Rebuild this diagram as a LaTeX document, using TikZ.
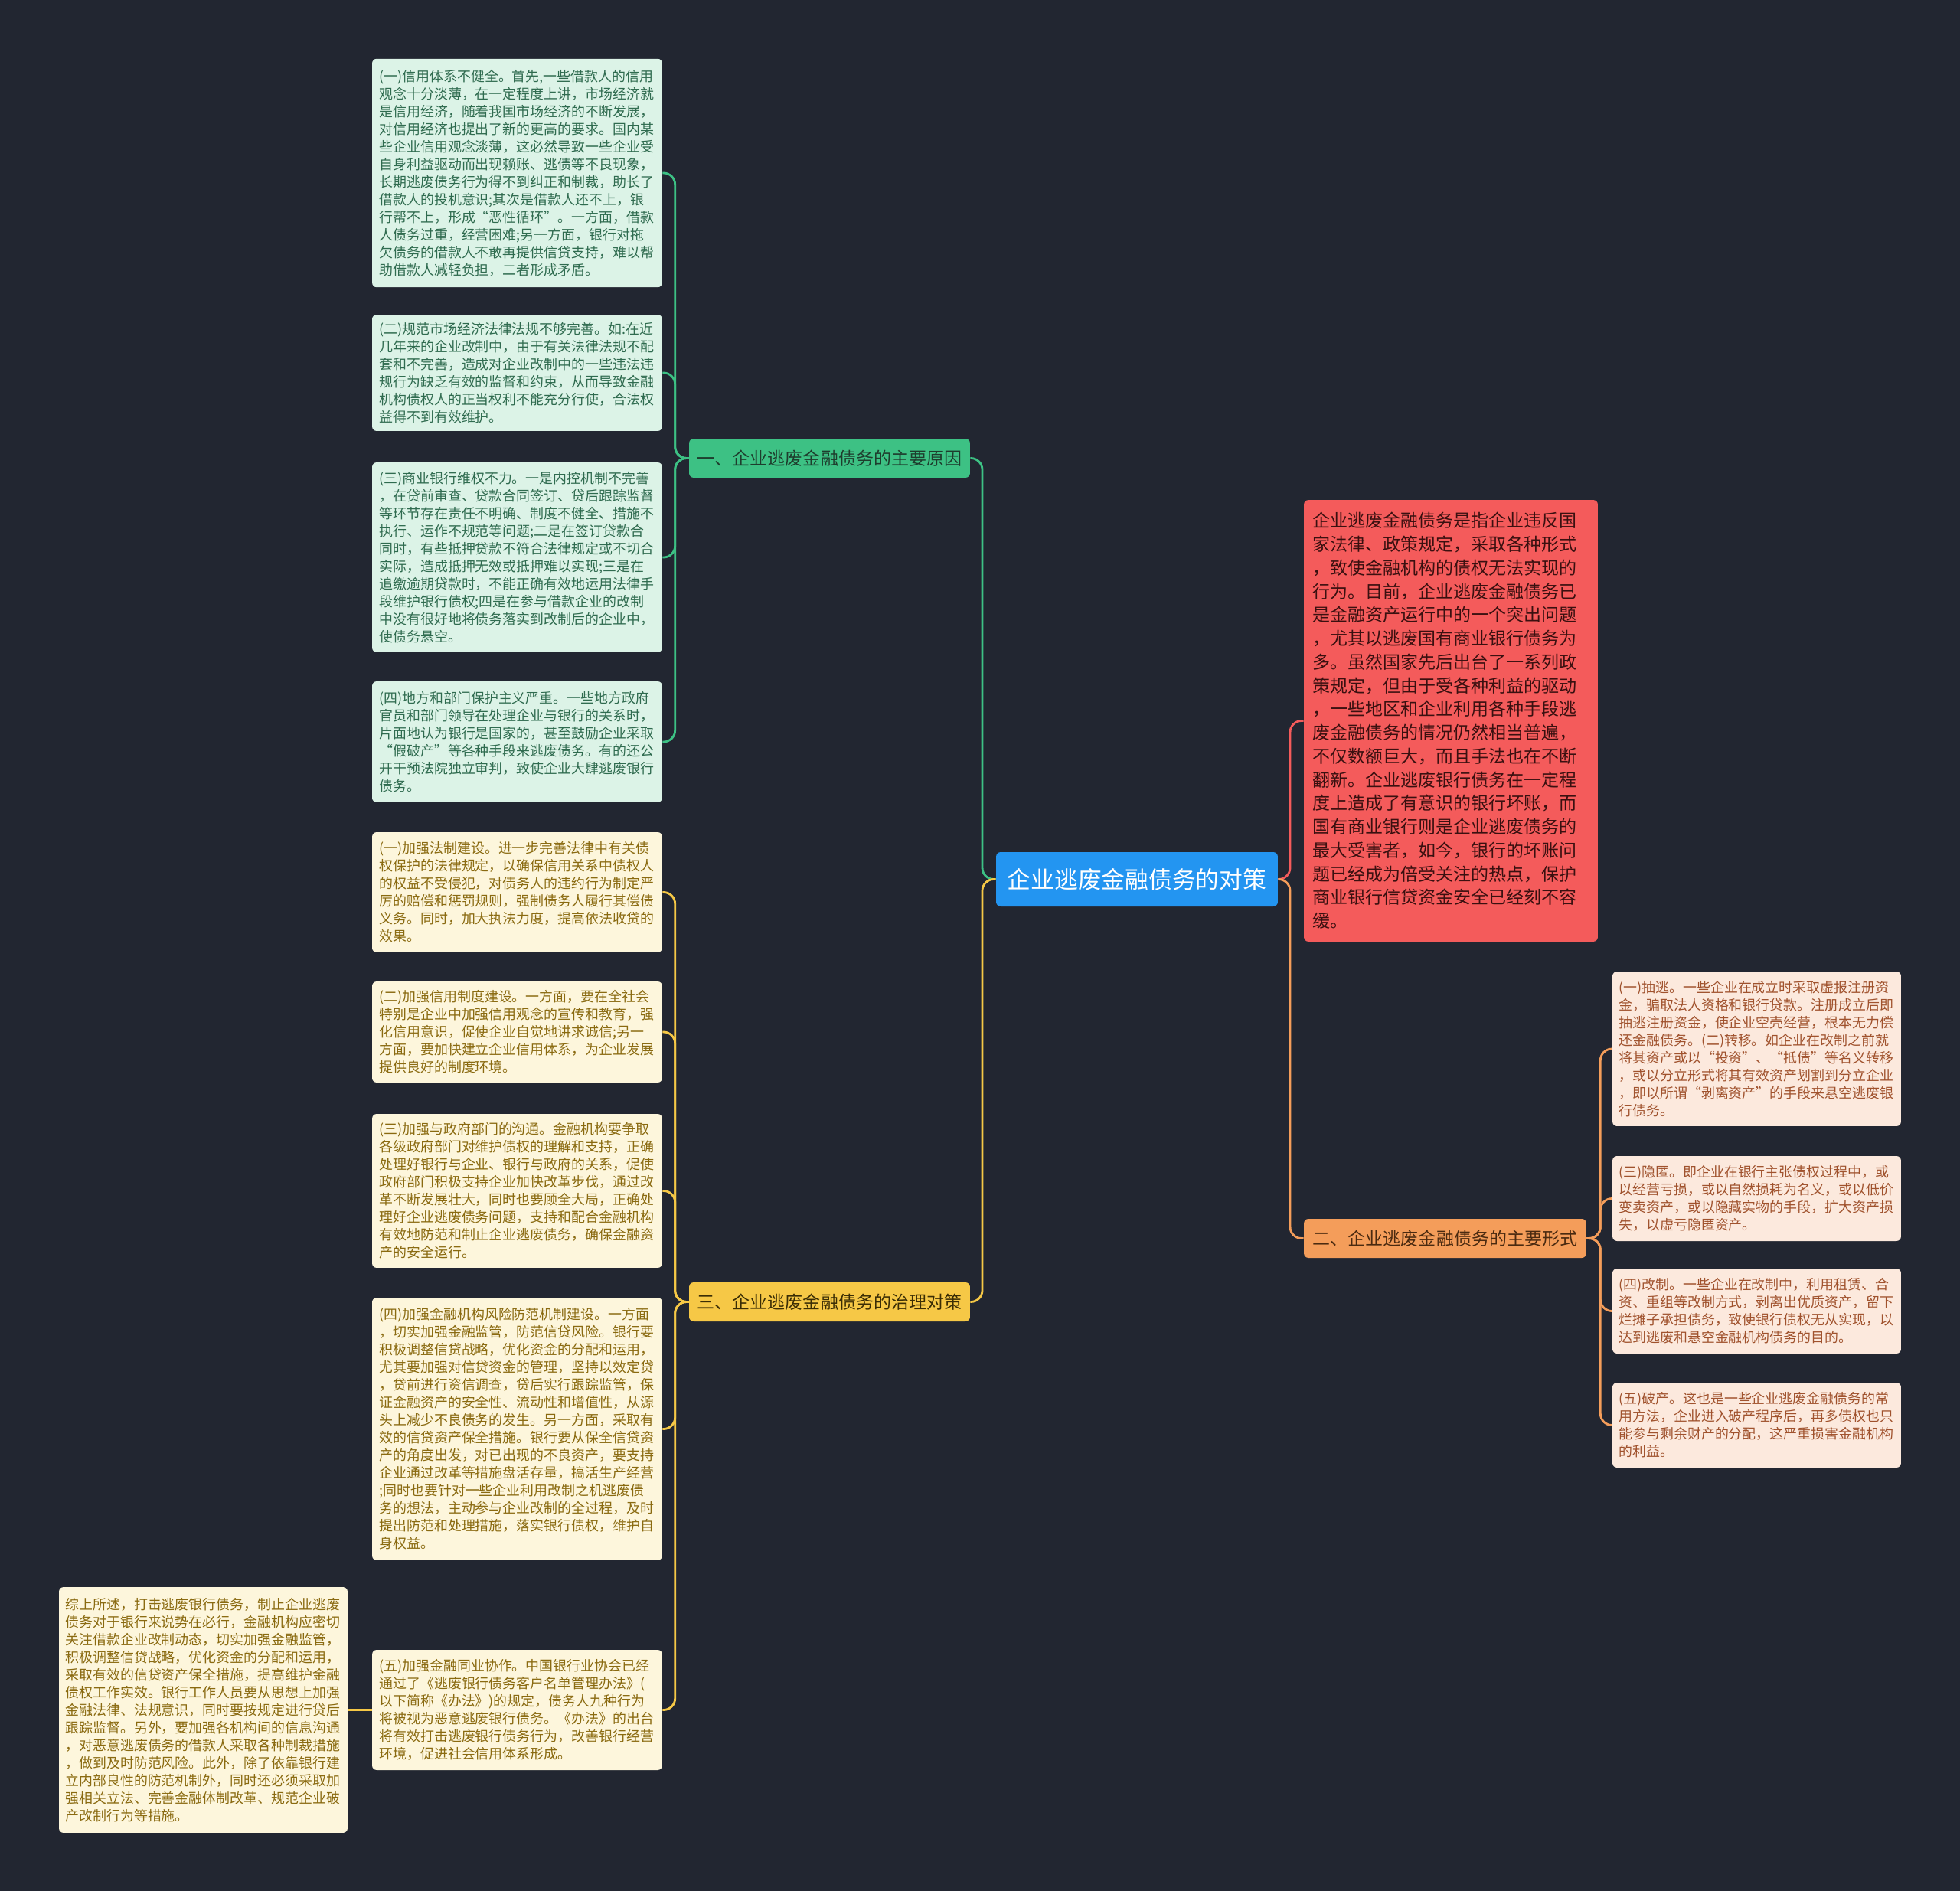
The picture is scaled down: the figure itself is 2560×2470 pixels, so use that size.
\documentclass[tikz,border=0pt]{standalone}
\usepackage{fontspec}
\setmainfont{Noto Sans CJK SC}
\usetikzlibrary{positioning}

\definecolor{bgnavy}{HTML}{222631}
\definecolor{rootblue}{HTML}{2395F1}
\definecolor{causeline}{HTML}{3DC184}
\definecolor{causefill}{HTML}{DCF3E7}
\definecolor{causeink}{HTML}{2F6B4F}
\definecolor{causedark}{HTML}{1E3D2D}
\definecolor{remedyline}{HTML}{F6C846}
\definecolor{remedyfill}{HTML}{FDF6DC}
\definecolor{remedyink}{HTML}{8A6A10}
\definecolor{remedydark}{HTML}{3A2D05}
\definecolor{noteline}{HTML}{F45B5B}
\definecolor{noteink}{HTML}{3A1010}
\definecolor{formline}{HTML}{F49D5A}
\definecolor{formfill}{HTML}{FCE9DD}
\definecolor{formink}{HTML}{A0522D}
\definecolor{formdark}{HTML}{4A2A10}

\newcommand\leaffont{\fontsize{10.2}{13.1}\selectfont}
\newcommand\notefont{\fontsize{13.1}{17.5}\selectfont}
\newcommand\branchfont{\fontsize{13.1}{15}\selectfont}
\newcommand\rootfont{\fontsize{17.5}{20}\selectfont}

\begin{document}
\begin{tikzpicture}[x=0.02cm, y=-0.02cm,
  leaf/.style={rounded corners=0.12cm, inner xsep=0.19cm, inner ysep=0.1cm, text width=7.2cm, align=left, font=\leaffont},
  cause/.style={leaf, fill=causefill, text=causeink},
  remedy/.style={leaf, fill=remedyfill, text=remedyink},
  form/.style={leaf, inner xsep=0.17cm, fill=formfill, text=formink},
  branch/.style={rounded corners=0.12cm, minimum width=7.34cm, minimum height=1.02cm, inner sep=0pt, font=\branchfont},
  link/.style={line width=1.6pt, rounded corners=0.3cm}]
\fill[bgnavy] (0,0) rectangle (2560,2470);

\node[fill=rootblue, text=white, rounded corners=0.12cm, minimum width=7.36cm, minimum height=1.42cm, inner sep=0pt, font=\rootfont] (root) at (1485,1148.5) {企业逃废金融债务的对策};
\node[branch, fill=causeline, text=causedark] (why) at (1083.5,598.5) {一、企业逃废金融债务的主要原因};
\node[branch, fill=remedyline, text=remedydark] (how) at (1083.5,1700.5) {三、企业逃废金融债务的治理对策};
\node[branch, minimum width=7.38cm, fill=formline, text=formdark] (forms) at (1887.5,1617.5) {二、企业逃废金融债务的主要形式};
\node[rounded corners=0.12cm, fill=noteline, text=noteink, inner xsep=0.22cm, text width=7.24cm, minimum height=11.54cm, align=left, font=\notefont] (note) at (1895,941.5) {企业逃废金融债务是指企业违反国\\家法律、政策规定，采取各种形式\\，致使金融机构的债权无法实现的\\行为。目前，企业逃废金融债务已\\是金融资产运行中的一个突出问题\\，尤其以逃废国有商业银行债务为\\多。虽然国家先后出台了一系列政\\策规定，但由于受各种利益的驱动\\，一些地区和企业利用各种手段逃\\废金融债务的情况仍然相当普遍，\\不仅数额巨大，而且手法也在不断\\翻新。企业逃废银行债务在一定程\\度上造成了有意识的银行坏账，而\\国有商业银行则是企业逃废债务的\\最大受害者，如今，银行的坏账问\\题已经成为倍受关注的热点，保护\\商业银行信贷资金安全已经刻不容\\缓。};

\node[cause, minimum height=5.97cm] (c1) at (675.5,226) {(一)信用体系不健全。首先,一些借款人的信用\\观念十分淡薄，在一定程度上讲，市场经济就\\是信用经济，随着我国市场经济的不断发展，\\对信用经济也提出了新的更高的要求。国内某\\些企业信用观念淡薄，这必然导致一些企业受\\自身利益驱动而出现赖账、逃债等不良现象，\\长期逃废债务行为得不到纠正和制裁，助长了\\借款人的投机意识;其次是借款人还不上，银\\行帮不上，形成“恶性循环”。一方面，借款\\人债务过重，经营困难;另一方面，银行对拖\\欠债务的借款人不敢再提供信贷支持，难以帮\\助借款人减轻负担，二者形成矛盾。};
\node[cause, minimum height=3.04cm] (c2) at (675.5,487) {(二)规范市场经济法律法规不够完善。如:在近\\几年来的企业改制中，由于有关法律法规不配\\套和不完善，造成对企业改制中的一些违法违\\规行为缺乏有效的监督和约束，从而导致金融\\机构债权人的正当权利不能充分行使，合法权\\益得不到有效维护。};
\node[cause, minimum height=4.96cm] (c3) at (675.5,728) {(三)商业银行维权不力。一是内控机制不完善\\，在贷前审查、贷款合同签订、贷后跟踪监督\\等环节存在责任不明确、制度不健全、措施不\\执行、运作不规范等问题;二是在签订贷款合\\同时，有些抵押贷款不符合法律规定或不切合\\实际，造成抵押无效或抵押难以实现;三是在\\追缴逾期贷款时，不能正确有效地运用法律手\\段维护银行债权;四是在参与借款企业的改制\\中没有很好地将债务落实到改制后的企业中，\\使债务悬空。};
\node[cause, minimum height=3.16cm] (c4) at (675.5,969) {(四)地方和部门保护主义严重。一些地方政府\\官员和部门领导在处理企业与银行的关系时，\\片面地认为银行是国家的，甚至鼓励企业采取\\“假破产”等各种手段来逃废债务。有的还公\\开干预法院独立审判，致使企业大肆逃废银行\\债务。};

\node[remedy, minimum height=3.14cm] (m1) at (675.5,1165.5) {(一)加强法制建设。进一步完善法律中有关债\\权保护的法律规定，以确保信用关系中债权人\\的权益不受侵犯，对债务人的违约行为制定严\\厉的赔偿和惩罚规则，强制债务人履行其偿债\\义务。同时，加大执法力度，提高依法收贷的\\效果。};
\node[remedy, minimum height=2.64cm] (m2) at (675.5,1348) {(二)加强信用制度建设。一方面，要在全社会\\特别是企业中加强信用观念的宣传和教育，强\\化信用意识，促使企业自觉地讲求诚信;另一\\方面，要加快建立企业信用体系，为企业发展\\提供良好的制度环境。};
\node[remedy, minimum height=4.02cm] (m3) at (675.5,1555.5) {(三)加强与政府部门的沟通。金融机构要争取\\各级政府部门对维护债权的理解和支持，正确\\处理好银行与企业、银行与政府的关系，促使\\政府部门积极支持企业加快改革步伐，通过改\\革不断发展壮大，同时也要顾全大局，正确处\\理好企业逃废债务问题，支持和配合金融机构\\有效地防范和制止企业逃废债务，确保金融资\\产的安全运行。};
\node[remedy, minimum height=6.86cm] (m4) at (675.5,1866.5) {(四)加强金融机构风险防范机制建设。一方面\\，切实加强金融监管，防范信贷风险。银行要\\积极调整信贷战略，优化资金的分配和运用，\\尤其要加强对信贷资金的管理，坚持以效定贷\\，贷前进行资信调查，贷后实行跟踪监管，保\\证金融资产的安全性、流动性和增值性，从源\\头上减少不良债务的发生。另一方面，采取有\\效的信贷资产保全措施。银行要从保全信贷资\\产的角度出发，对已出现的不良资产，要支持\\企业通过改革等措施盘活存量，搞活生产经营\\;同时也要针对一些企业利用改制之机逃废债\\务的想法，主动参与企业改制的全过程，及时\\提出防范和处理措施，落实银行债权，维护自\\身权益。};
\node[remedy, minimum height=3.14cm] (m5) at (675.5,2233.5) {(五)加强金融同业协作。中国银行业协会已经\\通过了《逃废银行债务客户名单管理办法》(\\以下简称《办法》)的规定，债务人九种行为\\将被视为恶意逃废银行债务。《办法》的出台\\将有效打击逃废银行债务行为，改善银行经营\\环境，促进社会信用体系形成。};
\node[remedy, inner xsep=0.17cm, minimum height=6.42cm] (sum) at (265.5,2233.5) {综上所述，打击逃废银行债务，制止企业逃废\\债务对于银行来说势在必行，金融机构应密切\\关注借款企业改制动态，切实加强金融监管，\\积极调整信贷战略，优化资金的分配和运用，\\采取有效的信贷资产保全措施，提高维护金融\\债权工作实效。银行工作人员要从思想上加强\\金融法律、法规意识，同时要按规定进行贷后\\跟踪监督。另外，要加强各机构间的信息沟通\\，对恶意逃废债务的借款人采取各种制裁措施\\，做到及时防范风险。此外，除了依靠银行建\\立内部良性的防范机制外，同时还必须采取加\\强相关立法、完善金融体制改革、规范企业破\\产改制行为等措施。};

\node[form, minimum height=4.04cm] (f1) at (2294.5,1370) {(一)抽逃。一些企业在成立时采取虚报注册资\\金，骗取法人资格和银行贷款。注册成立后即\\抽逃注册资金，使企业空壳经营，根本无力偿\\还金融债务。(二)转移。如企业在改制之前就\\将其资产或以“投资”、“抵债”等名义转移\\，或以分立形式将其有效资产划割到分立企业\\，即以所谓“剥离资产”的手段来悬空逃废银\\行债务。};
\node[form, minimum height=2.22cm] (f2) at (2294.5,1565.5) {(三)隐匿。即企业在银行主张债权过程中，或\\以经营亏损，或以自然损耗为名义，或以低价\\变卖资产，或以隐藏实物的手段，扩大资产损\\失，以虚亏隐匿资产。};
\node[form, minimum height=2.22cm] (f3) at (2294.5,1712.5) {(四)改制。一些企业在改制中，利用租赁、合\\资、重组等改制方式，剥离出优质资产，留下\\烂摊子承担债务，致使银行债权无从实现，以\\达到逃废和悬空金融机构债务的目的。};
\node[form, minimum height=2.22cm] (f4) at (2294.5,1861.5) {(五)破产。这也是一些企业逃废金融债务的常\\用方法，企业进入破产程序后，再多债权也只\\能参与剩余财产的分配，这严重损害金融机构\\的利益。};

\coordinate (jl) at (1283,1148.5);
\coordinate (jr) at (1685,1148.5);
\draw[link, causeline] (root.west) -- (jl) |- (why.east);
\draw[link, remedyline] (root.west) -- (jl) |- (how.east);
\draw[link, noteline] (root.east) -- (jr) |- (note.west);
\draw[link, formline] (root.east) -- (jr) |- (forms.west);
\foreach \n in {c1,c2,c3,c4}
  \draw[link, causeline] (why.west) -- ++(-18,0) |- (\n.east);
\foreach \n in {m1,m2,m3,m4,m5}
  \draw[link, remedyline] (how.west) -- ++(-18,0) |- (\n.east);
\draw[link, remedyline] (m5.west) -- (sum.east);
\foreach \n in {f1,f2,f3,f4}
  \draw[link, formline] (forms.east) -- ++(18,0) |- (\n.west);
\end{tikzpicture}
\end{document}
